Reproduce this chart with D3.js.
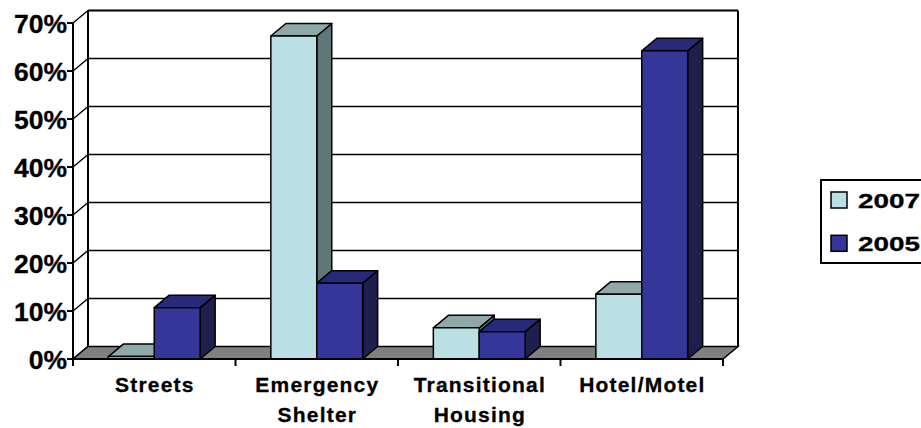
<!DOCTYPE html>
<html>
<head>
<meta charset="utf-8">
<script src="https://cdn.jsdelivr.net/npm/d3@7"></script>
<style>
  body { margin: 0; background: #fff; }
  text { font-family: Arial, "Liberation Sans", sans-serif; font-weight: bold; fill: #000; stroke: #000; stroke-width: 0.3px; }
</style>
</head>
<body>
<div id="chart"></div>
<script>
// data
const categories = [["Streets"], ["Emergency", "Shelter"], ["Transitional", "Housing"], ["Hotel/Motel"]];
const series = ["2007", "2005"];
const values2007 = [0.005, 0.673, 0.065, 0.135];
const values2005 = [0.107, 0.158, 0.057, 0.642];
const yTicks = [0, 0.1, 0.2, 0.3, 0.4, 0.5, 0.6, 0.7];

const colors = {
  "2007": {front: "#bbe0e3", top: "#8fa9ab", side: "#5f7778"},
  "2005": {front: "#35359a", top: "#29297a", side: "#1f1f4e"}
};

const W = 921, H = 428;
const plot = {left: 73, right: 723, top: 23, bottom: 359};
const depth = {dx: 15, dy: -12.5};

const svg = d3.select("#chart").append("svg")
  .attr("width", W).attr("height", H);

const catNames = categories.map(c => c.join(" "));
const x0 = d3.scaleBand().domain(catNames).range([plot.left, plot.right]).paddingInner(0).paddingOuter(0);
const x1 = d3.scaleBand().domain(series).range([0, x0.bandwidth()]).paddingInner(0).paddingOuter(0.77);
const y = d3.scaleLinear().domain([0, 0.7]).range([plot.bottom, plot.top]);
const fmt = d3.format(".0%");

const bx = plot.left + depth.dx, bRight = plot.right + depth.dx;

// back wall gridlines + left wall diagonals
const grid = svg.append("g");
yTicks.forEach(t => {
  const yy = y(t);
  if (t > 0) {
    grid.append("line")
      .attr("x1", bx).attr("x2", bRight)
      .attr("y1", yy + depth.dy).attr("y2", yy + depth.dy)
      .attr("stroke", "#000").attr("stroke-width", t === 0.7 ? 2 : 1.5);
  }
  grid.append("line")
    .attr("x1", plot.left).attr("y1", yy)
    .attr("x2", bx).attr("y2", yy + depth.dy)
    .attr("stroke", "#000").attr("stroke-width", 1.5);
});
// back wall verticals
grid.append("line").attr("x1", bx).attr("x2", bx)
  .attr("y1", y(0.7) + depth.dy).attr("y2", y(0) + depth.dy)
  .attr("stroke", "#000").attr("stroke-width", 2);
grid.append("line").attr("x1", bRight).attr("x2", bRight)
  .attr("y1", y(0.7) + depth.dy).attr("y2", y(0) + depth.dy)
  .attr("stroke", "#000").attr("stroke-width", 2);

// floor
svg.append("path")
  .attr("d", `M${plot.left},${y(0)}L${plot.right},${y(0)}L${bRight},${y(0) + depth.dy}L${bx},${y(0) + depth.dy}Z`)
  .attr("fill", "#808080").attr("stroke", "#000").attr("stroke-width", 1.5);

// bars
const bars = [];
catNames.forEach((c, i) => {
  bars.push({cat: c, s: "2007", v: values2007[i]});
  bars.push({cat: c, s: "2005", v: values2005[i]});
});

const g = svg.append("g");
bars.forEach(b => {
  const xl = x0(b.cat) + x1(b.s), xr = xl + x1.bandwidth();
  const yt = y(b.v), yb = y(0);
  const col = colors[b.s];
  const bar = g.append("g").attr("stroke", "#000").attr("stroke-width", 1.5).attr("stroke-linejoin", "round");
  bar.append("path")
    .attr("d", `M${xr},${yb}L${xr + depth.dx},${yb + depth.dy}L${xr + depth.dx},${yt + depth.dy}L${xr},${yt}Z`)
    .attr("fill", col.side);
  bar.append("path")
    .attr("d", `M${xl},${yt}L${xl + depth.dx},${yt + depth.dy}L${xr + depth.dx},${yt + depth.dy}L${xr},${yt}Z`)
    .attr("fill", col.top);
  bar.append("rect")
    .attr("x", xl).attr("y", yt).attr("width", xr - xl).attr("height", yb - yt)
    .attr("fill", col.front);
});

// front axes
svg.append("line").attr("x1", plot.left).attr("x2", plot.left)
  .attr("y1", y(0.7)).attr("y2", y(0) + 7)
  .attr("stroke", "#000").attr("stroke-width", 2);
svg.append("line").attr("x1", plot.left).attr("x2", plot.right)
  .attr("y1", y(0)).attr("y2", y(0))
  .attr("stroke", "#000").attr("stroke-width", 2);

// y ticks and labels
const yAxis = svg.append("g");
yTicks.forEach(t => {
  yAxis.append("line").attr("x1", plot.left - 6).attr("x2", plot.left)
    .attr("y1", y(t)).attr("y2", y(t)).attr("stroke", "#000").attr("stroke-width", 2);
  yAxis.append("text")
    .attr("x", plot.left - 6).attr("y", y(t) + 10)
    .attr("text-anchor", "end")
    .style("font-size", "26.5px")
    .text(fmt(t));
});

// x ticks and labels
const xAxis = svg.append("g");
catNames.forEach((c, i) => {
  xAxis.append("line").attr("x1", x0(c) + x0.bandwidth()).attr("x2", x0(c) + x0.bandwidth())
    .attr("y1", y(0)).attr("y2", y(0) + 7).attr("stroke", "#000").attr("stroke-width", 2);
  categories[i].forEach((line, j) => {
    xAxis.append("text")
      .attr("x", x0(c) + x0.bandwidth() / 2 + 0.6)
      .attr("y", 392 + j * 29.5)
      .attr("text-anchor", "middle")
      .style("font-size", "21px")
      .style("letter-spacing", "1.2px")
      .text(line);
  });
});

// legend
const leg = svg.append("g");
leg.append("rect").attr("x", 821).attr("y", 180).attr("width", 110).attr("height", 83)
  .attr("fill", "#fff").attr("stroke", "#000").attr("stroke-width", 2);
series.forEach((s, i) => {
  const ly = 192 + i * 43.3;
  leg.append("rect").attr("x", 831).attr("y", ly).attr("width", 16).attr("height", 16)
    .attr("fill", colors[s].front).attr("stroke", "#000").attr("stroke-width", 1.5);
  leg.append("text").attr("x", 858).attr("y", ly + 16)
    .attr("textLength", 62).attr("lengthAdjust", "spacingAndGlyphs")
    .style("font-size", "21px")
    .text(s);
});
</script>
</body>
</html>
